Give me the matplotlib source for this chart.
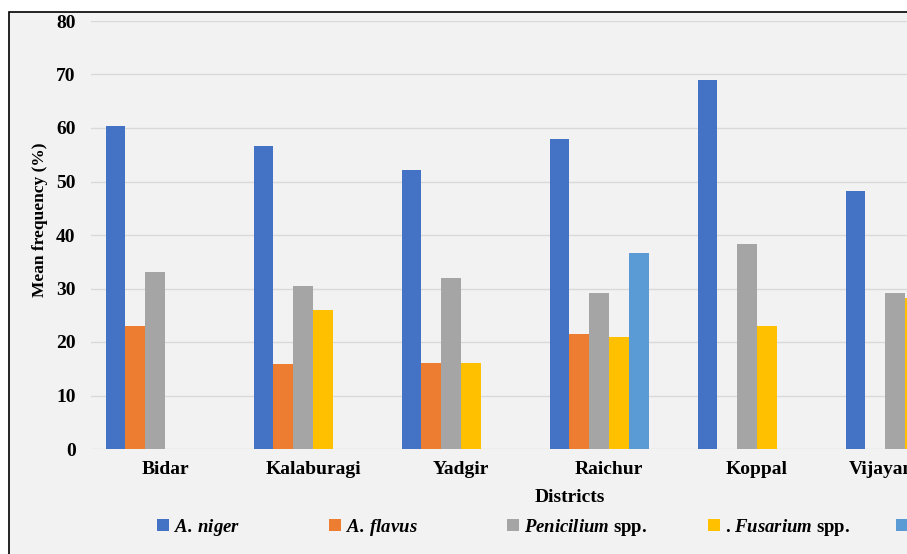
import matplotlib
matplotlib.use("Agg")
import matplotlib.pyplot as plt
from matplotlib.patches import Rectangle
import numpy as np

districts = ["Bidar", "Kalaburagi", "Yadgir", "Raichur", "Koppal", "Vijayanagara"]
series_labels = [r"$\mathbfit{A.}\,\mathbfit{niger}$", r"$\mathbfit{A.}\,\mathbfit{flavus}$",
                 r"$\mathbfit{Penicilium}$ spp.", r". $\mathbfit{Fusarium}$ spp.",
                 r"$\mathbfit{Alternaria}$ spp.", r"$\mathbfit{Rhizopus}$ spp."]
a_niger = [60.3, 56.6, 52.1, 57.9, 69.0, 48.3]
a_flavus = [23.0, 15.8, 16.1, 21.5, 0, 0]
penicillium = [33.1, 30.4, 31.9, 29.2, 38.3, 29.2]
fusarium = [0, 26.0, 16.1, 21.0, 23.0, 28.3]
series5 = [0, 0, 0, 36.6, 0, 0]
series6 = [0, 0, 0, 0, 0, 0]
yticks = [0, 10, 20, 30, 40, 50, 60, 70, 80]

colors = ["#4472C4", "#ED7D31", "#A5A5A5", "#FFC000", "#5B9BD5", "#70AD47"]

plt.rcParams["mathtext.fontset"] = "custom"
plt.rcParams["mathtext.bfit"] = "Liberation Serif:italic:bold"
plt.rcParams["mathtext.rm"] = "Liberation Serif:bold"
plt.rcParams["mathtext.it"] = "Liberation Serif:italic:bold"
plt.rcParams["font.family"] = ["Liberation Serif", "DejaVu Serif"]

W, H = 907, 554
fig = plt.figure(figsize=(W / 100, H / 100), dpi=100)
fig.patch.set_facecolor("white")

# outer chart frame (extends beyond the cropped image)
frame = Rectangle((9 / W, -0.2), 1.5, (H - 12) / H + 0.2, transform=fig.transFigure,
                  facecolor="#F2F2F2", edgecolor="black", lw=1.2, zorder=-10)
fig.add_artist(frame)

left_px, right_px, top_px, bot_px = 91, 91 + 6 * 148.0, 21, 449
ax = fig.add_axes([left_px / W, (H - bot_px) / H, (right_px - left_px) / W, (bot_px - top_px) / H])
ax.set_zorder(2)
ax.set_facecolor("none")

data = [a_niger, a_flavus, penicillium, fusarium, series5, series6]
x = np.arange(len(districts))
bw = 0.1335
handles = []
for i, (vals, c) in enumerate(zip(data, colors)):
    b = ax.bar(x + (i - 2.5) * bw, vals, width=bw, color=c, zorder=3)
    handles.append(b)

ax.set_xlim(-0.5, 5.5)
ax.set_ylim(0, 80)
ax.set_yticks(yticks)
ax.set_xticks(x)
ax.set_xticklabels(districts)
ax.yaxis.grid(True, color="#D9D9D9", lw=1.0, zorder=0)
ax.set_axisbelow(True)
for s in ax.spines.values():
    s.set_visible(False)
ax.tick_params(axis="both", length=0, labelsize=14)
ax.tick_params(axis="y", pad=11)
ax.tick_params(axis="x", pad=9)
for lbl in ax.get_xticklabels() + ax.get_yticklabels():
    lbl.set_fontweight("bold")

fig.text(570 / W, 1 - 497 / H, "Districts", ha="center", va="center",
         fontsize=14, fontweight="bold")
fig.text(40 / W, 1 - 220 / H, "Mean frequency (%)", ha="center", va="center",
         rotation=90, fontsize=12.5, fontweight="bold")

leg_x = [157, 329, 507, 708, 896, 1080]
for h, lab, lx in zip(handles, series_labels, leg_x):
    fig.legend([h], [lab], loc="center left", bbox_to_anchor=(lx / W, 1 - 527 / H),
               bbox_transform=fig.transFigure, frameon=False, handlelength=0.62,
               handleheight=0.62, handletextpad=0.3, borderpad=0, borderaxespad=0,
               prop={"family": "Liberation Serif", "weight": "bold", "size": 13.5})

fig.savefig("out.png", dpi=100)
